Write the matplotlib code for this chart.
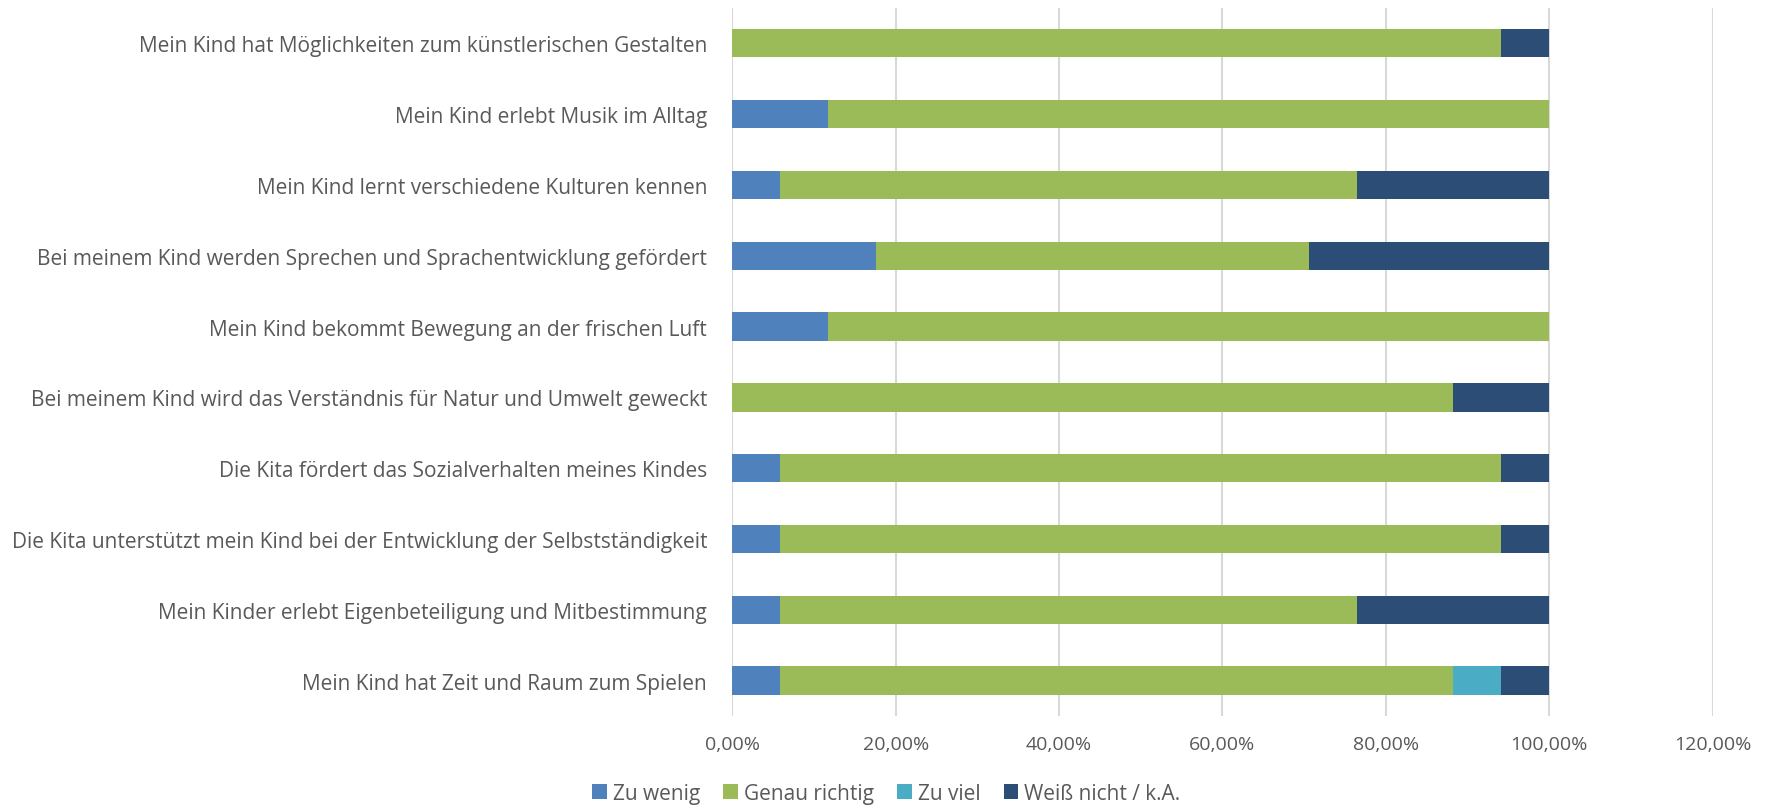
import numpy as np
import matplotlib
matplotlib.use('Agg')
import matplotlib.pyplot as plt
from matplotlib.ticker import FuncFormatter

plt.rcParams['font.family'] = ['Open Sans', 'DejaVu Sans']

# Aussagen (von oben nach unten)
aussagen = [
    'Mein Kind hat Möglichkeiten zum künstlerischen Gestalten',
    'Mein Kind erlebt Musik im Alltag',
    'Mein Kind lernt verschiedene Kulturen kennen',
    'Bei meinem Kind werden Sprechen und Sprachentwicklung gefördert',
    'Mein Kind bekommt Bewegung an der frischen Luft',
    'Bei meinem Kind wird das Verständnis für Natur und Umwelt geweckt',
    'Die Kita fördert das Sozialverhalten meines Kindes',
    'Die Kita unterstützt mein Kind bei der Entwicklung der Selbstständigkeit',
    'Mein Kinder erlebt Eigenbeteiligung und Mitbestimmung',
    'Mein Kind hat Zeit und Raum zum Spielen',
]

# Anteile in Prozent
zu_wenig = [0, 11.76, 5.88, 17.65, 11.76, 0, 5.88, 5.88, 5.88, 5.88]
genau_richtig = [94.12, 88.24, 70.59, 52.94, 88.24, 88.24, 88.24, 88.24, 70.59, 82.35]
zu_viel = [0, 0, 0, 0, 0, 0, 0, 0, 0, 5.88]
weiss_nicht = [5.88, 0, 23.53, 29.41, 0, 11.76, 5.88, 5.88, 23.53, 5.88]

serien = ['Zu wenig', 'Genau richtig', 'Zu viel', 'Weiß nicht / k.A.']
farben = ['#4F81BD', '#9BBB59', '#4BACC6', '#2C4D75']
werte = [zu_wenig, genau_richtig, zu_viel, weiss_nicht]

fig = plt.figure(figsize=(17.73, 8.12), dpi=100)
ax = fig.add_axes([0.413, 0.117, 0.553, 0.872])

y = np.arange(len(aussagen))
links = np.zeros(len(aussagen))
for name, farbe, w in zip(serien, farben, werte):
    w = np.array(w)
    ax.barh(y, w, left=links, height=0.4, color=farbe, label=name, zorder=3)
    links += w

ax.set_xlim(0, 120)
ax.set_ylim(len(aussagen) - 0.5, -0.5)
ax.set_xticks(np.arange(0, 121, 20))
ax.xaxis.set_major_formatter(FuncFormatter(lambda v, p: ('%.2f%%' % v).replace('.', ',')))
ax.set_yticks(y)
ax.set_yticklabels(aussagen)
ax.grid(axis='x', color='#D9D9D9', linewidth=1.5, zorder=0)
for s in ax.spines.values():
    s.set_visible(False)
ax.tick_params(axis='y', length=0, labelsize=15, labelcolor='#595959', pad=18)
ax.tick_params(axis='x', length=0, labelsize=14, labelcolor='#595959', pad=14)

fig.legend(loc='lower center', bbox_to_anchor=(0.5, -0.014), ncol=4, frameon=False,
           fontsize=15, labelcolor='#595959', handlelength=0.7, handleheight=0.7,
           handletextpad=0.3, columnspacing=1.1)

fig.savefig('out.png', dpi=100)
